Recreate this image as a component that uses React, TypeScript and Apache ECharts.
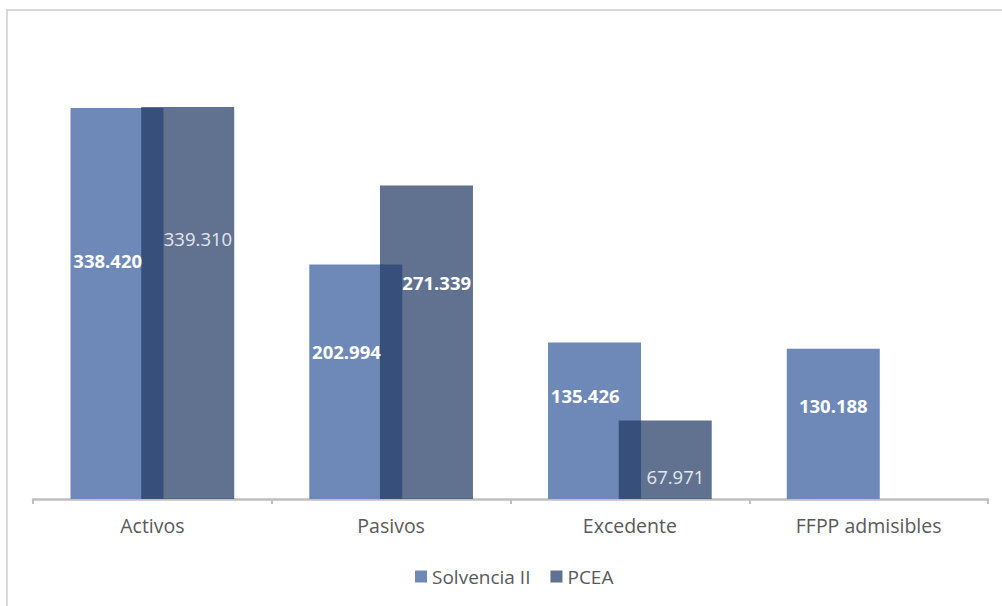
import React, { useEffect, useRef } from "react";
import * as echarts from "echarts";

const categories = ["Activos", "Pasivos", "Excedente", "FFPP admisibles"];
const solvenciaII = [338.42, 202.994, 135.426, 130.188];
const pcea: (number | null)[] = [339.31, 271.339, 67.971, null];
const seriesNames = ["Solvencia II", "PCEA"];

const fmt = (v: number) => v.toFixed(3);

export default function App() {
  const ref = useRef<HTMLDivElement>(null);
  useEffect(() => {
    document.body.style.margin = "0";
    const chart = echarts.init(ref.current!, undefined, { renderer: "svg" });
    const font = "'Open Sans', 'Noto Sans', sans-serif";

    const solvLabelY = ["39%", "37%", "34%", "38%"];
    const solvData = solvenciaII.map((v, i) => ({
      value: v,
      label: { position: [pcea[i] == null ? "50%" : "40%", solvLabelY[i]] },
    }));
    const pceaLabelY = ["33.5%", "31%", "71%"];
    const pceaBold = [false, true, false];
    const pceaData = pcea.map((v, i) =>
      v == null
        ? null
        : {
            value: v,
            label: {
              position: ["61%", pceaLabelY[i]],
              fontWeight: pceaBold[i] ? "bold" : "normal",
              color: pceaBold[i] ? "#ffffff" : "#e4e7ee",
            },
          }
    );

    chart.setOption({
      animation: false,
      textStyle: { fontFamily: font },
      graphic: [
        {
          type: "rect",
          shape: { x: 7, y: 10, width: 1020, height: 620 },
          style: { fill: "none", stroke: "#d9d9d9", lineWidth: 2 },
          silent: true,
        },
      ],
      grid: { left: 33, right: 14, top: 37, bottom: 107 },
      legend: {
        left: 410,
        top: 562,
        itemWidth: 12,
        itemHeight: 12,
        itemGap: 20,
        icon: "rect",
        textStyle: { fontSize: 19, color: "#595959", fontFamily: font },
        data: seriesNames,
      },
      xAxis: {
        type: "category",
        data: categories,
        axisLine: { lineStyle: { color: "#bfbfbf", width: 2.5 } },
        axisTick: { show: true, length: 5, lineStyle: { color: "#bfbfbf", width: 2 } },
        axisLabel: { fontSize: 19.5, color: "#595959", margin: 16, fontFamily: font },
      },
      yAxis: {
        type: "value",
        min: 0,
        max: 400,
        show: false,
        splitLine: { show: false },
      },
      series: [
        {
          name: seriesNames[0],
          type: "bar",
          data: solvData,
          barWidth: 93,
          barGap: "-24%",
          itemStyle: { color: "#6e89b8" },
          label: {
            show: true,
            formatter: (p: any) => fmt(p.value),
            fontSize: 18.5,
            fontWeight: "bold",
            color: "#ffffff",
            align: "center",
            verticalAlign: "middle",
            fontFamily: font,
          },
        },
        {
          name: seriesNames[1],
          type: "bar",
          data: pceaData,
          barWidth: 93,
          itemStyle: { color: "rgba(32,55,99,0.71)" },
          label: {
            show: true,
            formatter: (p: any) => fmt(p.value),
            fontSize: 18.5,
            color: "#e4e7ee",
            align: "center",
            verticalAlign: "middle",
            fontFamily: font,
          },
        },
      ],
    });
    return () => chart.dispose();
  }, []);
  return <div ref={ref} style={{ width: 1002, height: 606 }} />;
}
